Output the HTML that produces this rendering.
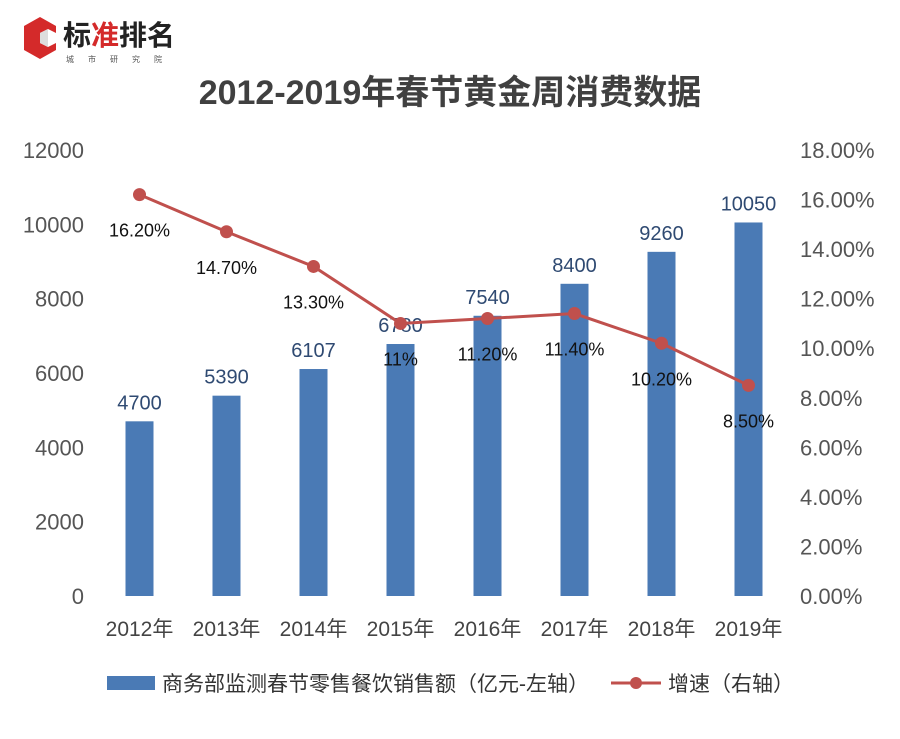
<!DOCTYPE html>
<html><head><meta charset="utf-8">
<style>
body{margin:0;background:#fff;font-family:"Liberation Sans","Noto Sans CJK SC",sans-serif;}
svg text{font-family:"Liberation Sans","Noto Sans CJK SC",sans-serif;}
</style></head>
<body>
<svg width="900" height="734" xmlns="http://www.w3.org/2000/svg">
<g>
  <polygon points="40,17 56,26 56,33 48,29 40,33 40,43 48,47 56,43 56,50 40,59 24,50 24,26" fill="#d42a2a"/>
  <polygon points="40,33 48,29 48,47 40,43" fill="#ddd"/>
  <text x="63" y="45" font-size="28" font-weight="bold" fill="#222">标<tspan fill="#d42a2a">准</tspan>排名</text>
  <text x="66" y="62" font-size="8" fill="#555" letter-spacing="14">城市研究院</text>
</g>
<text x="450" y="104" text-anchor="middle" font-size="34" font-weight="bold" fill="#404040">2012-2019年春节黄金周消费数据</text>
<g id="yl"></g><g id="yr"></g><g id="xl"></g><g id="bars"></g><g id="line"></g>
<g>
  <rect x="107" y="676" width="48" height="14" fill="#4a7ab5"/>
  <text x="162" y="691" font-size="21" fill="#333">商务部监测春节零售餐饮销售额（亿元-左轴）</text>
  <line x1="611" y1="683" x2="661" y2="683" stroke="#c0504d" stroke-width="3"/>
  <circle cx="636" cy="683" r="6" fill="#c0504d"/>
  <text x="668" y="691" font-size="21" fill="#333">增速（右轴）</text>
</g>
</svg>
<script>
const years=["2012年","2013年","2014年","2015年","2016年","2017年","2018年","2019年"];
const sales=[4700,5390,6107,6780,7540,8400,9260,10050];
const growth=[16.2,14.7,13.3,11,11.2,11.4,10.2,8.5];
const growthLabels=["16.20%","14.70%","13.30%","11%","11.20%","11.40%","10.20%","8.50%"];
const leftTicks=[0,2000,4000,6000,8000,10000,12000];
const rightTicks=[0,2,4,6,8,10,12,14,16,18];
const NS="http://www.w3.org/2000/svg";
const y0=596,yTop=150,x0=96,x1=792;
const yL=v=>y0-v/12000*(y0-yTop);
const yR=v=>y0-v/18*(y0-yTop);
const bw=(x1-x0)/years.length;
const xC=i=>x0+bw*(i+0.5);
function mk(tag,attrs,parent,txt){const e=document.createElementNS(NS,tag);for(const k in attrs)e.setAttribute(k,attrs[k]);if(txt!==undefined)e.textContent=txt;document.getElementById(parent).appendChild(e);return e;}
leftTicks.forEach(t=>{const e=mk('text',{x:84,y:yL(t)+8,'text-anchor':'end','font-size':22,fill:'#555'},'yl',t);

});
rightTicks.forEach(t=>{const e=mk('text',{x:800,y:yR(t)+8,'font-size':22,fill:'#555'},'yr',t.toFixed(2)+'%');

});
years.forEach((y,i)=>{const e=mk('text',{x:xC(i),y:636,'text-anchor':'middle','font-size':21,fill:'#444'},'xl',y);

});
sales.forEach((v,i)=>{const r=mk('rect',{x:xC(i)-14,y:yL(v),width:28,height:y0-yL(v),fill:'#4a7ab5'},'bars');


const t=mk('text',{x:xC(i),y:yL(v)-12,'text-anchor':'middle','font-size':20,fill:'#2f4a72'},'bars',v);

});
const pts=growth.map((g,i)=>xC(i)+','+yR(g)).join(' ');
const pl=mk('polyline',{points:pts,fill:'none',stroke:'#c0504d','stroke-width':3},'line');


growth.forEach((g,i)=>{const c=mk('circle',{cx:xC(i),cy:yR(g),r:6.5,fill:'#c0504d'},'line');


const t=mk('text',{x:xC(i),y:yR(g)+42,'text-anchor':'middle','font-size':18,fill:'#111'},'line',growthLabels[i]);

});
</script>
</body></html>
